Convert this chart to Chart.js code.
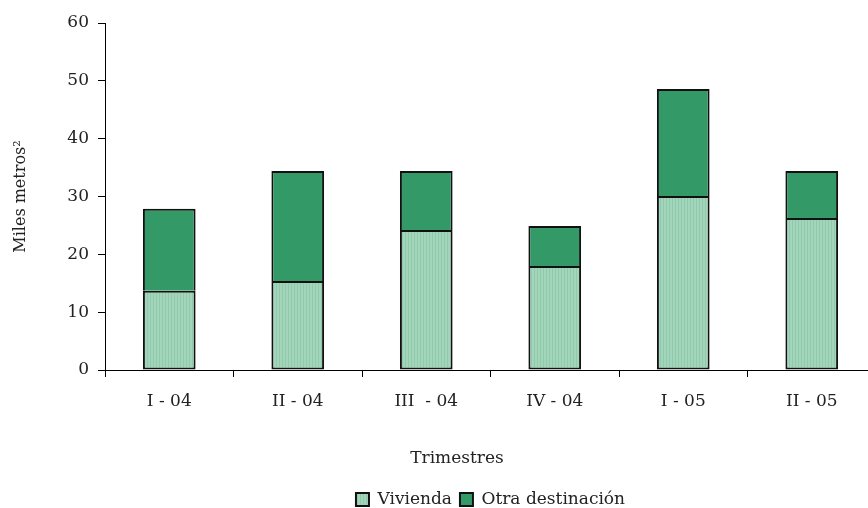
<!DOCTYPE html>
<html><head><meta charset="utf-8">
<script src="https://cdn.jsdelivr.net/npm/chart.js@4.4.1/dist/chart.umd.min.js"></script>
<style>html,body{margin:0;padding:0;background:#fff;overflow:hidden;width:868px;height:508px}#wrap{width:880px;height:508px}</style>
</head><body><div id="wrap"><canvas id="c" width="880" height="508"></canvas></div>
<script>
const categories = ["I - 04", "II - 04", "III  - 04", "IV - 04", "I - 05", "II - 05"];
const vivienda = [13.7, 15.4, 24.2, 18.0, 30.1, 26.3];
const otraDestinacion = [14.2, 19.0, 10.2, 6.9, 18.5, 8.1];
const seriesNames = ["Vivienda", "Otra destinación"];
const yTicks = { min: 0, max: 60, step: 10 };
const yTitle = "Miles metros²";
const xTitle = "Trimestres";

function stripePattern() {
  const p = document.createElement('canvas');
  p.width = 3; p.height = 4;
  const g = p.getContext('2d');
  g.fillStyle = '#a2d5bb'; g.fillRect(0, 0, 3, 4);
  g.fillStyle = '#8fcaa9'; g.fillRect(0, 0, 1, 4);
  return g.createPattern(p, 'repeat');
}
const ctx = document.getElementById('c').getContext('2d');
const vivFill = stripePattern();
const FONT = "'DejaVu Serif', serif";

const xTitlePlugin = {
  id: 'xTitle',
  afterDraw(chart) {
    const a = chart.chartArea, c = chart.ctx;
    c.save();
    c.font = "17px " + FONT;
    c.fillStyle = '#222';
    c.textAlign = 'center';
    c.textBaseline = 'middle';
    c.fillText(xTitle, a.left + (a.right - a.left) * 0.4565, a.bottom + 89);
    c.restore();
  }
};

new Chart(ctx, {
  type: 'bar',
  data: {
    labels: categories,
    datasets: [
      { label: seriesNames[0], data: vivienda, backgroundColor: vivFill, borderColor: '#111', borderWidth: 2, borderSkipped: false, barPercentage: 0.41, categoryPercentage: 1 },
      { label: seriesNames[1], data: otraDestinacion, backgroundColor: '#339966', borderColor: '#111', borderWidth: 2, borderSkipped: 'start', barPercentage: 0.41, categoryPercentage: 1 }
    ]
  },
  plugins: [xTitlePlugin],
  options: {
    responsive: false,
    animation: false,
    devicePixelRatio: 1,
    layout: { padding: { top: 23, left: 0, right: 4, bottom: -10 } },
    plugins: {
      legend: {
        position: 'bottom',
        fullSize: false,
        labels: { font: { family: FONT, size: 17 }, color: '#222', boxWidth: 13, boxHeight: 13, padding: 8, useBorderRadius: false }
      },
      tooltip: { enabled: false }
    },
    scales: {
      x: {
        stacked: true,
        grid: { display: true, drawOnChartArea: false, offset: true, color: '#000', tickLength: 7, lineWidth: 1 },
        border: { display: true, color: '#000', width: 1 },
        ticks: { font: { family: FONT, size: 17 }, color: '#222', padding: 14, maxRotation: 0 },
        afterFit(s) { s.height = 113; }
      },
      y: {
        stacked: true,
        min: yTicks.min, max: yTicks.max,
        ticks: { stepSize: yTicks.step, font: { family: FONT, size: 17 }, color: '#222', padding: 9 },
        grid: { display: true, drawOnChartArea: false, color: '#000', tickLength: 7 },
        border: { display: true, color: '#000', width: 1 },
        title: { display: true, text: yTitle, font: { family: FONT, size: 16 }, color: '#222', padding: { top: 11, bottom: 0 } },
        afterFit(s) { s.width = 105; }
      }
    }
  }
});
</script></body></html>
